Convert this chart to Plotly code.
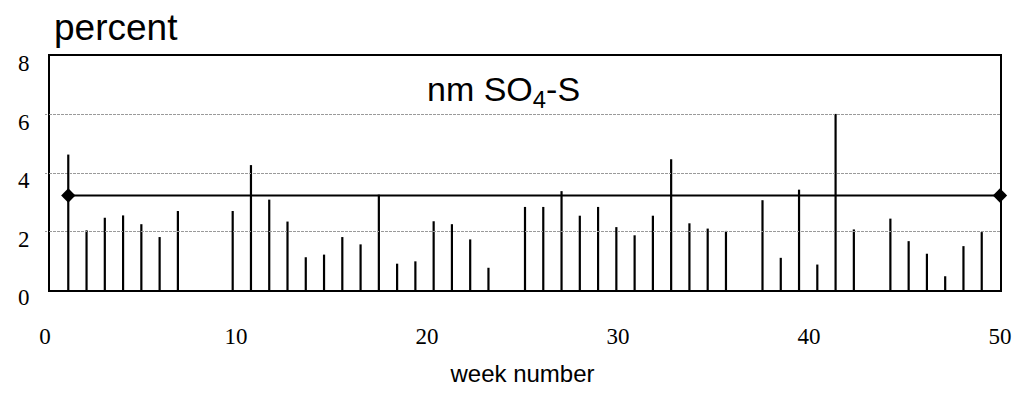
import plotly.graph_objects as go

# ---- data ----
weeks = [1, 2, 3, 4, 5, 6, 7,
         10, 11, 12, 13, 14, 15, 16, 17, 18, 19, 20, 21, 22, 23, 24,
         26, 27, 28, 29, 30, 31, 32, 33, 34, 35, 36, 37,
         39, 40, 41, 42, 43, 44,
         46, 47, 48, 49, 50, 51]
values = [4.63, 2.04, 2.47, 2.55, 2.25, 1.81, 2.70,
          2.70, 4.27, 3.09, 2.34, 1.12, 1.21, 1.81, 1.56, 3.26, 0.90, 0.98, 2.35, 2.25, 1.73, 0.76,
          2.84, 2.84, 3.38, 2.54, 2.84, 2.15, 1.87, 2.54, 4.47, 2.28, 2.10, 2.02,
          3.07, 1.10, 3.43, 0.87, 6.02, 2.07,
          2.44, 1.67, 1.24, 0.47, 1.50, 1.98]
mean_weeks = [1, 52]
mean_value = 3.23
week_range = [0, 52]
label_ticks = [0, 10, 20, 30, 40, 50]
y_ticks = [0, 2, 4, 6, 8]

# stems built from the data
stem_x, stem_y = [], []
for w, v in zip(weeks, values):
    stem_x += [w, w, None]
    stem_y += [0, v, None]

fig = go.Figure()
# carrier trace for the labelled week axis (drawn first, underneath)
fig.add_trace(go.Scatter(x=label_ticks, y=[None] * len(label_ticks),
                         xaxis="x2", yaxis="y", mode="markers",
                         showlegend=False, hoverinfo="skip"))
fig.add_trace(go.Scatter(x=stem_x, y=stem_y, mode="lines",
                         line=dict(color="black", width=2.2),
                         showlegend=False, hoverinfo="skip"))
fig.add_trace(go.Scatter(x=mean_weeks, y=[mean_value] * len(mean_weeks),
                         mode="lines+markers",
                         line=dict(color="black", width=2),
                         marker=dict(symbol="diamond", size=11, color="black"),
                         cliponaxis=False, showlegend=False))

serif = "Liberation Serif, Times New Roman, serif"
sans = "Liberation Sans, Arial, sans-serif"

fig.update_layout(
    width=1015, height=399,
    margin=dict(l=45, r=15, t=56, b=109, autoexpand=False),
    paper_bgcolor="white", plot_bgcolor="rgba(0,0,0,0)",
    xaxis=dict(domain=[5 / 955, 1], range=week_range, automargin=False,
               showline=True, mirror=True, linecolor="black", linewidth=2,
               showgrid=False, zeroline=False, showticklabels=False, ticks=""),
    xaxis2=dict(domain=[0, 1], range=[0, 50], anchor="y", automargin=False,
                tickvals=label_ticks, showline=False, showgrid=False,
                zeroline=False, ticks="",
                tickfont=dict(family=serif, size=23, color="black"),
                ticklabelstandoff=30,
                title=dict(text="week number", standoff=17,
                           font=dict(family=sans, size=24, color="black"))),
    yaxis=dict(range=[0, 8], tickvals=y_ticks, anchor="x", automargin=False,
               showline=True, mirror=True, linecolor="black", linewidth=2,
               showgrid=True, gridcolor="#9a9a9a", griddash="2px,2px", gridwidth=1,
               zeroline=False, ticks="",
               tickfont=dict(family=serif, size=23, color="black"),
               ticklabelstandoff=14, ticklabelshift=7),
    annotations=[
        dict(text="percent", xref="paper", yref="paper", x=0.0073, y=1.12,
             xanchor="left", yanchor="middle", showarrow=False,
             font=dict(family=sans, size=37, color="black")),
        dict(text="nm SO<sub>4</sub>-S", xref="paper", yref="paper",
             x=0.4796, y=0.85, xanchor="center", yanchor="middle",
             showarrow=False, font=dict(family=sans, size=34, color="black")),
    ],
)

fig.write_html("out.html", config={"displayModeBar": False},
               post_script="document.body.style.margin='0';")
